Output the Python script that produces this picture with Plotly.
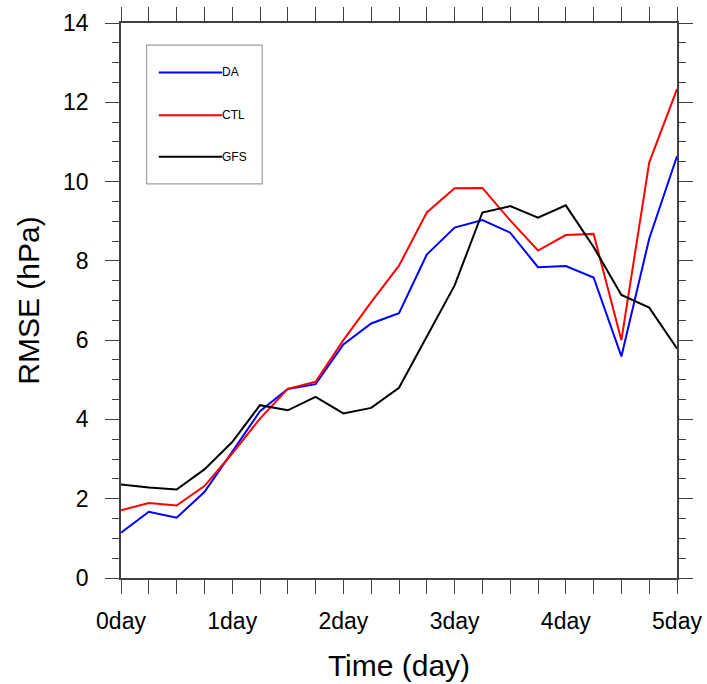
import plotly.graph_objects as go

days = [0, 0.25, 0.5, 0.75, 1, 1.25, 1.5, 1.75, 2, 2.25, 2.5, 2.75, 3, 3.25,
        3.5, 3.75, 4, 4.25, 4.5, 4.75, 5]
da = [1.14, 1.67, 1.52, 2.17, 3.18, 4.21, 4.77, 4.89, 5.89, 6.42, 6.68, 8.16,
      8.84, 9.03, 8.71, 7.84, 7.87, 7.58, 5.59, 8.56, 10.64]
ctl = [1.71, 1.89, 1.83, 2.32, 3.14, 4.02, 4.77, 4.95, 6.0, 6.96, 7.88, 9.22,
       9.83, 9.84, 9.02, 8.26, 8.65, 8.68, 6.0, 10.48, 12.33]
gfs = [2.36, 2.28, 2.23, 2.74, 3.43, 4.36, 4.23, 4.57, 4.15, 4.29, 4.8, 6.08,
       7.38, 9.22, 9.38, 9.09, 9.40, 8.35, 7.14, 6.82, 5.79]

series_names = ["DA", "CTL", "GFS"]
series_colors = ["#0000ff", "#ff0000", "#000000"]
series_values = [da, ctl, gfs]

x_tickvals = [0, 1, 2, 3, 4, 5]
x_ticktext = ["0day", "1day", "2day", "3day", "4day", "5day"]
y_tickvals = [0, 2, 4, 6, 8, 10, 12, 14]
y_ticktext = ["0", "2", "4", "6", "8", "10", "12", "14"]

FONT = "Liberation Sans, Arial, Helvetica, sans-serif"
AX = "#404040"

fig = go.Figure()
for name, color, vals in zip(series_names, series_colors, series_values):
    fig.add_trace(go.Scatter(x=days, y=vals, mode="lines", name=name,
                             line=dict(color=color, width=2), showlegend=False))

# custom legend box (paper coordinates)
fig.add_shape(type="rect", xref="paper", yref="paper", x0=0.046, x1=0.254,
              y0=0.710, y1=0.960, line=dict(color="#a0a0a0", width=1.2),
              fillcolor="white", layer="below")
leg_y = [0.911, 0.834, 0.759]
for name, color, ly in zip(series_names, series_colors, leg_y):
    fig.add_shape(type="line", xref="paper", yref="paper", x0=0.068, x1=0.182,
                  y0=ly, y1=ly, line=dict(color=color, width=2))
    fig.add_annotation(xref="paper", yref="paper", x=0.182, y=ly, text=name,
                       showarrow=False, xanchor="left", yanchor="middle",
                       xshift=-2,
                       font=dict(family=FONT, size=12, color="black"))

fig.update_xaxes(range=[0, 5], tickvals=x_tickvals, ticktext=x_ticktext,
                 ticks="outside", ticklen=14, tickwidth=1.2, tickcolor=AX,
                 minor=dict(dtick=0.25, ticks="outside", ticklen=14,
                            tickwidth=1.2, tickcolor=AX),
                 showline=True, linecolor=AX, linewidth=1.5, mirror="ticks",
                 showgrid=False, zeroline=False, automargin=False,
                 tickfont=dict(family=FONT, size=23, color="black"),
                 ticklabelstandoff=8,
                 title=dict(text="Time (day)", standoff=22,
                            font=dict(family=FONT, size=30, color="black")))
fig.update_yaxes(range=[0, 14], tickvals=y_tickvals, ticktext=y_ticktext,
                 ticks="outside", ticklen=14, tickwidth=1.2, tickcolor=AX,
                 minor=dict(dtick=0.5, ticks="outside", ticklen=7,
                            tickwidth=1.2, tickcolor=AX),
                 showline=True, linecolor=AX, linewidth=1.5, mirror="ticks",
                 showgrid=False, zeroline=False, automargin=False,
                 tickfont=dict(family=FONT, size=23, color="black"),
                 ticklabelstandoff=12,
                 title=dict(text="RMSE (hPa)", standoff=15,
                            font=dict(family=FONT, size=30, color="black")))

fig.update_layout(width=707, height=684, autosize=False,
                  margin=dict(l=121, r=30, t=23, b=106, pad=0),
                  paper_bgcolor="white", plot_bgcolor="white")

fig.write_html("out.html", config={"displayModeBar": False},
               post_script="document.body.style.margin='0';"
                           "document.body.style.overflow='hidden';")
